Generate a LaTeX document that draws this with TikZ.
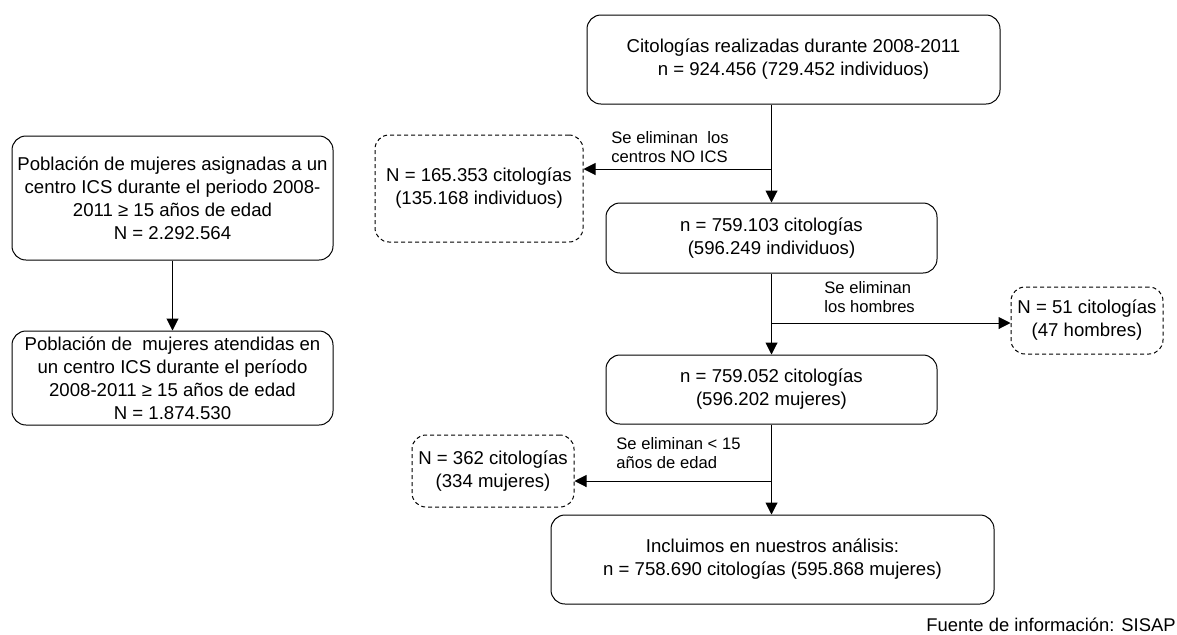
\documentclass[tikz,border=0pt]{standalone}
\usepackage{fontspec}
\setmainfont{Liberation Sans}
\usetikzlibrary{positioning,arrows.meta}

\tikzset{
  box/.style={draw, line width=0.5pt, rounded corners=7pt, align=center,
    inner sep=0pt, font=\fontsize{9.3}{11.5}\selectfont},
  dbox/.style={box, dash pattern=on 2pt off 1.5pt},
  lbl/.style={align=left, inner sep=0pt, font=\fontsize{8.3}{9.5}\selectfont},
  arr/.style={line width=0.5pt, -{Triangle[length=6pt,width=6pt]}}
}

\begin{document}
\begin{tikzpicture}[x=0.5pt, y=-0.5pt]
\useasboundingbox (0,0) rectangle (1177,634);

% main column
\node[box, minimum width=206.5pt, minimum height=44.5pt] (cit) at (793.5,59.5)
    {Citologías realizadas durante 2008-2011\\ n = 924.456 (729.452 individuos)};
\node[box, minimum width=165.5pt, minimum height=35pt] (ics) at (771.5,238)
    {n = 759.103 citologías\\ (596.249 individuos)};
\node[box, minimum width=165.5pt, minimum height=34.5pt] (hom) at (771.5,389.5)
    {n = 759.052 citologías\\ (596.202 mujeres)};
\node[box, minimum width=221.5pt, minimum height=44.5pt] (fin) at (772.5,559.5)
    {Incluimos en nuestros análisis:\\ n = 758.690 citologías (595.868 mujeres)};

% excluded
\node[dbox, minimum width=104pt, minimum height=53.5pt] (del1) at (479,188.5)
    {N = 165.353 citologías\\ (135.168 individuos)};
\node[dbox, minimum width=76pt, minimum height=33.5pt] (del2) at (1087,320.5)
    {N = 51 citologías\\ (47 hombres)};
\node[dbox, minimum width=81pt, minimum height=36pt] (del3) at (493,471)
    {N = 362 citologías\\ (334 mujeres)};

% population
\node[box, minimum width=160.5pt, minimum height=62pt] (asig) at (172.5,198)
    {Población de mujeres asignadas a un\\ centro ICS durante el periodo 2008-\\
     2011 ≥ 15 años de edad\\ N = 2.292.564};
\node[box, minimum width=160.5pt, minimum height=47pt] (aten) at (172.5,378)
    {Población de\ \ mujeres atendidas en\\ un centro ICS durante el período\\
     2008-2011 ≥ 15 años de edad\\ N = 1.874.530};

\node[anchor=east, inner sep=0pt, font=\fontsize{9.2}{11}\selectfont] (src) at (1176,625)
    {Fuente de información: SISAP};

% connectors
\coordinate (b1) at (771.5,169);
\coordinate (b2) at (771.5,323);
\coordinate (b3) at (771.5,481);
\draw[arr] (cit.south -| ics.north) -- (ics.north);
\draw[arr] (b1) -- (b1 -| del1.east);
\draw[arr] (ics.south) -- (hom.north);
\draw[arr] (b2) -- (b2 -| del2.west);
\draw[arr] (hom.south) -- (hom.south |- fin.north);
\draw[arr] (b3) -- (b3 -| del3.east);
\draw[arr] (asig) -- (aten);

\node[lbl, anchor=south west] (l1) at (611,163) {Se eliminan\ \ los\\ centros NO ICS};
\node[lbl, anchor=south west] (l2) at (824,313) {Se eliminan\\ los hombres};
\node[lbl, anchor=south west] (l3) at (616,469) {Se eliminan < 15\\ años de edad};
\end{tikzpicture}
\end{document}
